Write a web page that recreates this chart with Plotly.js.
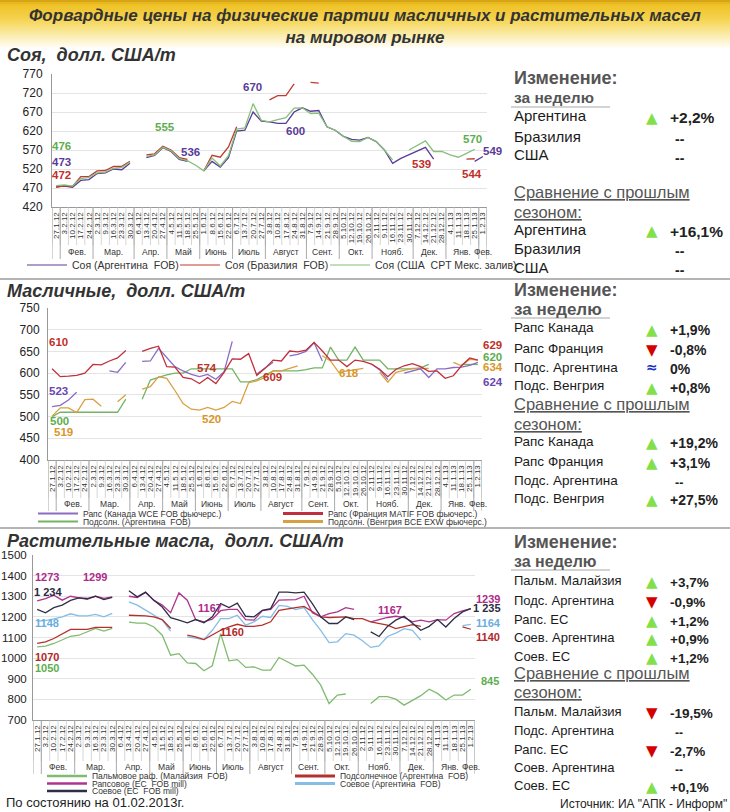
<!DOCTYPE html>
<html><head><meta charset="utf-8">
<script src="https://cdn.plot.ly/plotly-3.0.1.min.js"></script>
<style>html,body{margin:0;padding:0;background:#fff}#chart{width:730px;height:812px}</style>
</head><body><div id="chart"></div>
<script>
// ---------- categories ----------
const dates=['27.1.12','3.2.12','10.2.12','17.2.12','24.2.12','2.3.12','9.3.12','16.3.12','23.3.12','30.3.12',
'6.4.12','13.4.12','20.4.12','27.4.12','4.5.12','11.5.12','18.5.12','25.5.12','1.6.12','8.6.12','15.6.12','22.6.12',
'6.7.12','13.7.12','20.7.12','27.7.12','3.8.12','10.8.12','17.8.12','24.8.12','31.8.12','7.9.12','14.9.12','21.9.12','28.9.12',
'5.10.12','12.10.12','19.10.12','26.10.12','2.11.12','9.11.12','16.11.12','23.11.12','30.11.12','7.12.12','14.12.12','21.12.12','28.12.12',
'4.1.13','11.1.13','18.1.13','25.1.13','1.2.13'];
const months=['','Фев.','Фев.','Фев.','Фев.','Мар.','Мар.','Мар.','Мар.','Мар.',
'Апр.','Апр.','Апр.','Апр.','Май','Май','Май','Май','Июнь','Июнь','Июнь','Июнь',
'Июль','Июль','Июль','Июль','Август','Август','Август','Август','Август','Сент.','Сент.','Сент.','Сент.',
'Окт.','Окт.','Окт.','Окт.','Нояб.','Нояб.','Нояб.','Нояб.','Нояб.','Дек.','Дек.','Дек.','Дек.',
'Янв.','Янв.','Янв.','Янв.','Фев. '];
const _=null;
// ---------- soy ----------
const soyArg=[473,475,472,490,492,508,510,520,518,535,_,550,556,576,566,545,540,_,515,540,525,550,620,622,670,646,644,640,640,670,681,672,674,631,622,606,598,596,603,592,570,535,548,557,568,577,546,_,_,_,_,540,553];
const soyBra=[472,476,474,500,500,515,516,527,527,540,_,557,560,580,570,550,545,_,515,556,551,578,631,_,_,_,702,713,713,744,_,748,746,_,_,_,_,_,_,_,_,_,_,_,_,_,_,_,_,_,546,547,_];
const soyUsa=[476,478,475,495,498,510,512,522,524,538,_,553,557,577,568,547,542,530,515,549,528,555,625,628,692,648,644,650,655,680,681,666,667,631,622,606,593,592,603,592,570,544,_,570,583,594,566,566,557,551,561,572,_];
// ---------- oilseeds ----------
const rapeCan=[523,526,538,556,_,_,_,605,602,625,_,627,628,657,635,615,605,597,592,597,586,603,673,_,_,598,612,625,_,640,643,650,670,628,_,_,_,_,_,621,608,585,_,600,605,610,590,610,610,613,614,618,625];
const rapeFra=[610,592,593,595,600,620,619,628,635,652,_,650,657,662,615,614,590,587,576,590,576,602,633,632,645,595,611,630,628,651,649,653,671,651,630,630,615,630,627,621,609,592,609,617,622,615,604,605,588,594,617,635,630];
const sunArg=[500,510,510,510,510,510,510,510,510,540,_,540,584,590,596,600,600,610,610,610,610,610,610,580,580,585,595,605,605,605,605,608,612,612,660,630,630,660,630,630,630,610,610,610,610,612,620,_,_,_,620,620,620];
const sunHun=[501,520,520,509,539,540,524,_,534,550,_,563,569,592,588,560,530,517,515,521,515,521,535,530,578,582,590,605,605,611,617,_,_,640,628,602,605,607,611,_,602,579,602,607,611,611,611,_,_,625,617,632,630];
// ---------- vegetable oils ----------
const palmMal=[1055,1058,1071,1087,1106,1111,1127,1144,1131,1144,_,1175,1170,1170,1151,1111,1014,1022,977,974,939,963,1119,987,993,955,958,942,942,1003,982,962,966,922,869,780,821,826,_,_,780,813,813,801,772,797,818,849,829,797,821,821,849];
const sunOilArg=[1071,1079,1095,1116,1139,1139,1139,1149,1149,1149,_,1208,1208,1205,1200,1187,1144,_,1111,1103,1090,1111,1135,1151,1164,1154,1154,1160,1176,1232,1240,1245,1251,1224,1200,1197,1197,1200,1192,1192,1176,1168,1160,1143,1154,1162,1154,_,_,_,_,1152,1140];
const rapeOilEu=[1278,1289,1305,1281,1300,1294,1285,1300,1290,1297,_,1300,1294,1318,1280,1257,1220,1316,1281,1187,1176,1189,1230,1236,1236,1187,1184,1230,1236,1281,1284,1284,1300,1220,1200,1216,1224,1245,1236,_,1176,1187,1197,1203,1197,1176,1184,1176,1187,1184,1216,1229,1240];
const soyOilArg=[1180,1182,1190,1200,1215,1205,1205,1212,1200,1217,_,1273,1257,1233,1208,1184,1131,_,1103,1095,1090,1135,1192,1192,1208,1160,1176,1203,1197,1256,1251,1235,1245,1187,1135,1075,1079,1119,1111,1084,1052,1059,1105,1121,1143,1135,1087,_,_,_,_,1158,1164];
const soyOilEu=[1236,1220,1245,1257,1280,1292,1289,1300,1284,1294,_,1327,1297,1320,1280,1248,1196,1184,1171,1187,1171,1200,1264,1245,1267,1203,1200,1232,1240,1320,1320,1316,1320,1264,1200,1168,1168,1200,1187,_,1127,1105,1154,1184,1203,1168,1135,1154,1187,1151,1192,1224,1240];
// ---------- side tables ----------
const soyWeek=[['Аргентина','up','+2,2%'],['Бразилия','','--'],['США','','--']];
const soySeason=[['Аргентина','up','+16,1%'],['Бразилия','','--'],['США','','--']];
const seedWeek=[['Рапс Канада','up','+1,9%'],['Рапс Франция','down','-0,8%'],['Подс. Аргентина','eq','0%'],['Подс. Венгрия','up','+0,8%']];
const seedSeason=[['Рапс Канада','up','+19,2%'],['Рапс Франция','up','+3,1%'],['Подс. Аргентина','','--'],['Подс. Венгрия','up','+27,5%']];
const oilWeek=[['Пальм. Малайзия','up','+3,7%'],['Подс. Аргентина','down','-0,9%'],['Рапс. ЕС','up','+1,2%'],['Соев. Аргентина','up','+0,9%'],['Соев. ЕС','up','+1,2%']];
const oilSeason=[['Пальм. Малайзия','down','-19,5%'],['Подс. Аргентина','','--'],['Рапс. ЕС','down','-2,7%'],['Соев. Аргентина','','--'],['Соев. ЕС','up','+0,1%']];

// ---------- layout helpers ----------
const W=730,H=812,F='Liberation Sans, Arial, Helvetica, sans-serif';
const px=x=>x/W, py=y=>1-y/H;
const C={sArg:'#5a3c98',sBra:'#c23a30',sUsa:'#86c07a',
 can:'#8a6cc6',fra:'#c0303c',sunA:'#74b466',sunH:'#d9a041',
 palm:'#80bb70',sunO:'#b4302c',rapeO:'#b0338e',soyA:'#86bde4',soyE:'#2e2e48'};
function tr(y,color,xa,ya,name){return {type:'scatter',mode:'lines',x:dates,y:y,xaxis:xa,yaxis:ya,name:name,
  line:{color:color,width:1.3},connectgaps:false,showlegend:false,hoverinfo:'y+name'};}
const data=[
 tr(soyArg,C.sArg,'x','y','Соя (Аргентина FOB)'),tr(soyBra,C.sBra,'x','y','Соя (Бразилия FOB)'),tr(soyUsa,C.sUsa,'x','y','Соя (США CPT Мекс. залив)'),
 tr(sunArg,C.sunA,'x2','y2','Подсолн. (Аргентина FOB)'),tr(sunHun,C.sunH,'x2','y2','Подсолн. (Венгрия BCE EXW фьючерс.)'),
 tr(rapeCan,C.can,'x2','y2','Рапс (Канада WCE FOB фьючерс.)'),tr(rapeFra,C.fra,'x2','y2','Рапс (Франция MATIF FOB фьючерс.)'),
 tr(palmMal,C.palm,'x3','y3','Пальмовое раф. (Малайзия FOB)'),tr(soyOilArg,C.soyA,'x3','y3','Соевое (Аргентина FOB)'),
 tr(sunOilArg,C.sunO,'x3','y3','Подсолнечное (Аргентина FOB)'),tr(rapeOilEu,C.rapeO,'x3','y3','Рапсовое (ЕС FOB mill)'),tr(soyOilEu,C.soyE,'x3','y3','Соевое (ЕС FOB mill)')
];
function xa(l,r,anchor){return {type:'category',domain:[px(l),px(r)],anchor:anchor,range:[-0.5,52.5],
  tickmode:'linear',tick0:0,dtick:1,tickangle:-90,tickfont:{family:F,size:8,color:'#333'},
  showline:true,linecolor:'#999',linewidth:1,showgrid:false,ticks:'',ticklabelstandoff:1,automargin:false,fixedrange:true};}
function ya(t,b,r,dt,anchor,fs,so){return {domain:[py(b),py(t)],anchor:anchor,range:r,dtick:dt,tick0:r[0],
  tickfont:{family:F,size:fs,color:'#222'},showline:true,linecolor:'#999',linewidth:1,gridcolor:'#e4e4e4',
  zeroline:false,ticks:'',ticklabelstandoff:so,automargin:false,fixedrange:true};}

const ann=[];
function T(text,x,y,o){o=o||{};ann.push({text:text,x:px(x),y:py(y),xref:'paper',yref:'paper',
  xanchor:o.a||'left',yanchor:'middle',showarrow:false,
  font:{family:o.f||F,size:o.s||12,color:o.c||'#222',weight:o.w||'normal',style:o.st||'normal'}});}
const shapes=[];
function L(x0,x1,y0,y1,color,w){shapes.push({type:'line',xref:'paper',yref:'paper',x0:px(x0),x1:px(x1),y0:py(y0),y1:py(y1),line:{color:color,width:w}});}

// category table under each plot: cell lines, month dividers and month names (derived from the label arrays)
function table(xref,plotBottom,labelBottom,monthY){
  for(let i=0;i<=dates.length;i++)shapes.push({type:'line',xref:xref,yref:'paper',x0:i-0.5,x1:i-0.5,y0:py(plotBottom),y1:py(labelBottom),line:{color:'#c4c4c4',width:0.7}});
  let s=0;
  for(let i=1;i<=months.length;i++){
    if(i===months.length||months[i]!==months[s]){
      shapes.push({type:'line',xref:xref,yref:'paper',x0:s-0.5,x1:s-0.5,y0:py(plotBottom),y1:py(monthY+7),line:{color:'#a0a0a0',width:0.9}});
      if(months[s].trim())ann.push({text:months[s].trim(),x:(s+i-1)/2,y:py(monthY),xref:xref,yref:'paper',xanchor:'center',yanchor:'middle',showarrow:false,font:{family:F,size:8.5,color:'#333'}});
      s=i;}
  }
  shapes.push({type:'line',xref:xref,yref:'paper',x0:dates.length-0.5,x1:dates.length-0.5,y0:py(plotBottom),y1:py(monthY+7),line:{color:'#a0a0a0',width:0.9}});
}
table('x',207,245,252);table('x2',460,498,504);table('x3',720,761,767);

// banner gradient
const stops=[[0,[214,164,20]],[3,[238,192,36]],[18,[245,211,80]],[34,[250,236,170]],[48,[255,255,255]]];
for(let y=0;y<48;y+=2){let i=0;while(stops[i+1][0]<y)i++;const a=stops[i],b=stops[i+1],t=(y-a[0])/(b[0]-a[0]);
 const c=a[1].map((v,k)=>Math.round(v+(b[1][k]-v)*t));
 shapes.push({type:'rect',xref:'paper',yref:'paper',x0:0,x1:1,y0:py(y+2),y1:py(y),fillcolor:'rgb('+c.join(',')+')',line:{width:0},layer:'below'});}
// separators
L(0,730,279,279,'#b4b4b4',2);L(0,730,528,528,'#b4b4b4',2);

// section titles
T('Соя,  долл. США/т',5,55,{s:18,w:'bold',st:'italic',c:'#333'});
T('Масличные,  долл. США/т',5,291,{s:18,w:'bold',st:'italic',c:'#333'});
T('Растительные масла,  долл. США/т',5,541,{s:18,w:'bold',st:'italic',c:'#333'});

// data labels
const lab=(t,x,y,c)=>T(t,x,y,{a:'center',s:11.5,w:'bold',c:c});
lab('476',61,146,'#5eae50');lab('473',61,162,C.sArg);lab('472',61,175,'#c0302a');
lab('555',165,127,'#5eae50');lab('536',191,152,C.sArg);lab('670',252,87,C.sArg);lab('600',295,131,C.sArg);
lab('539',422,164,'#c0302a');lab('570',472,139,'#5eae50');lab('544',472,174,'#c0302a');lab('549',493,151,C.sArg);
lab('610',58,342,'#c0302a');lab('523',58,391,'#6a48b0');lab('500',59,421,'#5eae50');lab('519',63,432,'#d9962a');
lab('574',207,368,'#c0302a');lab('520',212,419,'#d9962a');lab('609',272,377,'#c0302a');lab('618',349,373,'#d9962a');
lab('629',493,345,'#c0302a');lab('620',493,357,'#5eae50');lab('634',493,367,'#d9962a');lab('624',493,382,'#6a48b0');
const lab3=(t,x,y,c)=>T(t,x,y,{a:'center',s:11,w:'bold',c:c});
lab3('1273',47,577,'#b02a8a');lab3('1299',95,577,'#b02a8a');lab3('1 234',48,592,'#2a2a40');lab3('1148',47,623,'#6aaee0');
lab3('1070',47,657,'#b0282a');lab3('1050',47,668,'#5eae50');lab3('1167',210,608,'#b02a8a');lab3('1160',232,632,'#b0282a');
lab3('1167',390,610,'#b02a8a');lab3('1239',488,599,'#b02a8a');lab3('1 235',487,608,'#2a2a40');lab3('1164',488,623,'#6aaee0');
lab3('1140',488,637,'#b0282a');lab3('845',490,681,'#5eae50');

// manual legends
function leg(name,color,x0,y,w,fs){L(x0,x0+40,y,y,color,w);T(name,x0+43,y,{s:fs,c:'#333'});}
leg('Соя (Аргентина  FOB)',C.sArg,27,265,1.2,10.5);leg('Соя (Бразилия  FOB)',C.sBra,180,265,1.2,10.5);leg('Соя (США  CPT Мекс. залив)',C.sUsa,330,265,1.2,10.5);
leg('Рапс (Канада WCE FOB фьючерс.)',C.can,38,513.5,2,8.5);leg('Рапс (Франция MATIF FOB фьючерс.)',C.fra,283,513.5,3,8.5);
leg('Подсолн. (Аргентина  FOB)',C.sunA,38,521.5,2,8.5);leg('Подсолн. (Венгрия BCE EXW фьючерс.)',C.sunH,283,521.5,3,8.5);
leg('Пальмовое раф. (Малайзия  FOB)',C.palm,47,776,2.5,8.5);leg('Подсолнечное (Аргентина  FOB)',C.sunO,295,776,3,8.5);
leg('Рапсовое (ЕС  FOB mill)',C.rapeO,47,783.5,2.5,8.5);leg('Соевое (Аргентина  FOB)',C.soyA,295,783.5,3,8.5);
leg('Соевое (ЕС  FOB mill)',C.soyE,47,791,2.5,8.5);

// side tables
function arrow(kind,y){if(!kind)return;
 if(kind==='up')T('▲',652,y+2,{a:'center',s:15,c:'#84e04a',f:'DejaVu Sans'});
 else if(kind==='down')T('▼',652,y+2,{a:'center',s:15,c:'#d40000',f:'DejaVu Sans'});
 else T('<b>≈</b>',652,y,{a:'center',s:14,c:'#1a32c8',f:'DejaVu Sans'});}
function rows(list,ys,fs){list.forEach((r,i)=>{T(r[0],512,ys[i],{s:fs,c:'#1a1a1a'});arrow(r[1],ys[i]);
  if(r[2]==='--')T('<b>--</b>',673,ys[i]+3,{s:fs-1,c:'#222'});else T('<b>'+r[2]+'</b>',668,ys[i]+2,{s:fs+0.5,c:'#222'});});}
function head(y1,y2,fs2,uy){T('<b>Изменение:</b>',512,y1,{s:18,c:'#555'});T('<b>за неделю</b>',512,y2,{s:fs2,c:'#555'});L(511,610,uy,uy,'#a8a8a8',1.2);}
function head2(y1,y2){T('<u>Сравнение с прошлым</u>',512,y1,{s:16.5,c:'#555'});T('<u>сезоном:</u>',512,y2,{s:16.5,c:'#555'});}
head(78,97,15.5,107);rows(soyWeek,[116,136,155],15);head2(192,212);rows(soySeason,[229,248,267],15);
head(290,309,17,318);rows(seedWeek,[328,348,367,386],13.5);head2(404,424);rows(seedSeason,[441,461,480,498],13.5);
head(542,561,16,570);rows(oilWeek,[580,600,619,637,656],13);head2(673,692);rows(oilSeason,[711,730,749,767,785],13);

T('По состоянию на 01.02.2013г.',4,802,{s:13,c:'#222'});
T('Источник: ИА "АПК - Информ"',558,804,{s:12,c:'#222'});

const layout={width:W,height:H,margin:{l:0,r:0,t:0,b:0},paper_bgcolor:'rgba(0,0,0,0)',plot_bgcolor:'#fff',showlegend:false,
 title:{text:'Форвардные цены на физические партии масличных и растительных масел<br>на мировом рынке',
   x:0.5,xanchor:'center',y:1-21/H,yanchor:'top',font:{family:F,size:17,color:'#333',weight:'bold',style:'italic'}},
 xaxis:xa(52,487,'y'),yaxis:ya(74,207,[420,770],50,'x',12,6),
 xaxis2:xa(48,482,'y2'),yaxis2:ya(308,460,[400,750],50,'x2',12,5),
 xaxis3:xa(33,475,'y3'),yaxis3:ya(555,720,[700,1500],100,'x3',11.5,3),
 annotations:ann,shapes:shapes};
Plotly.newPlot('chart',data,layout,{displayModeBar:false,staticPlot:true});
</script></body></html>
